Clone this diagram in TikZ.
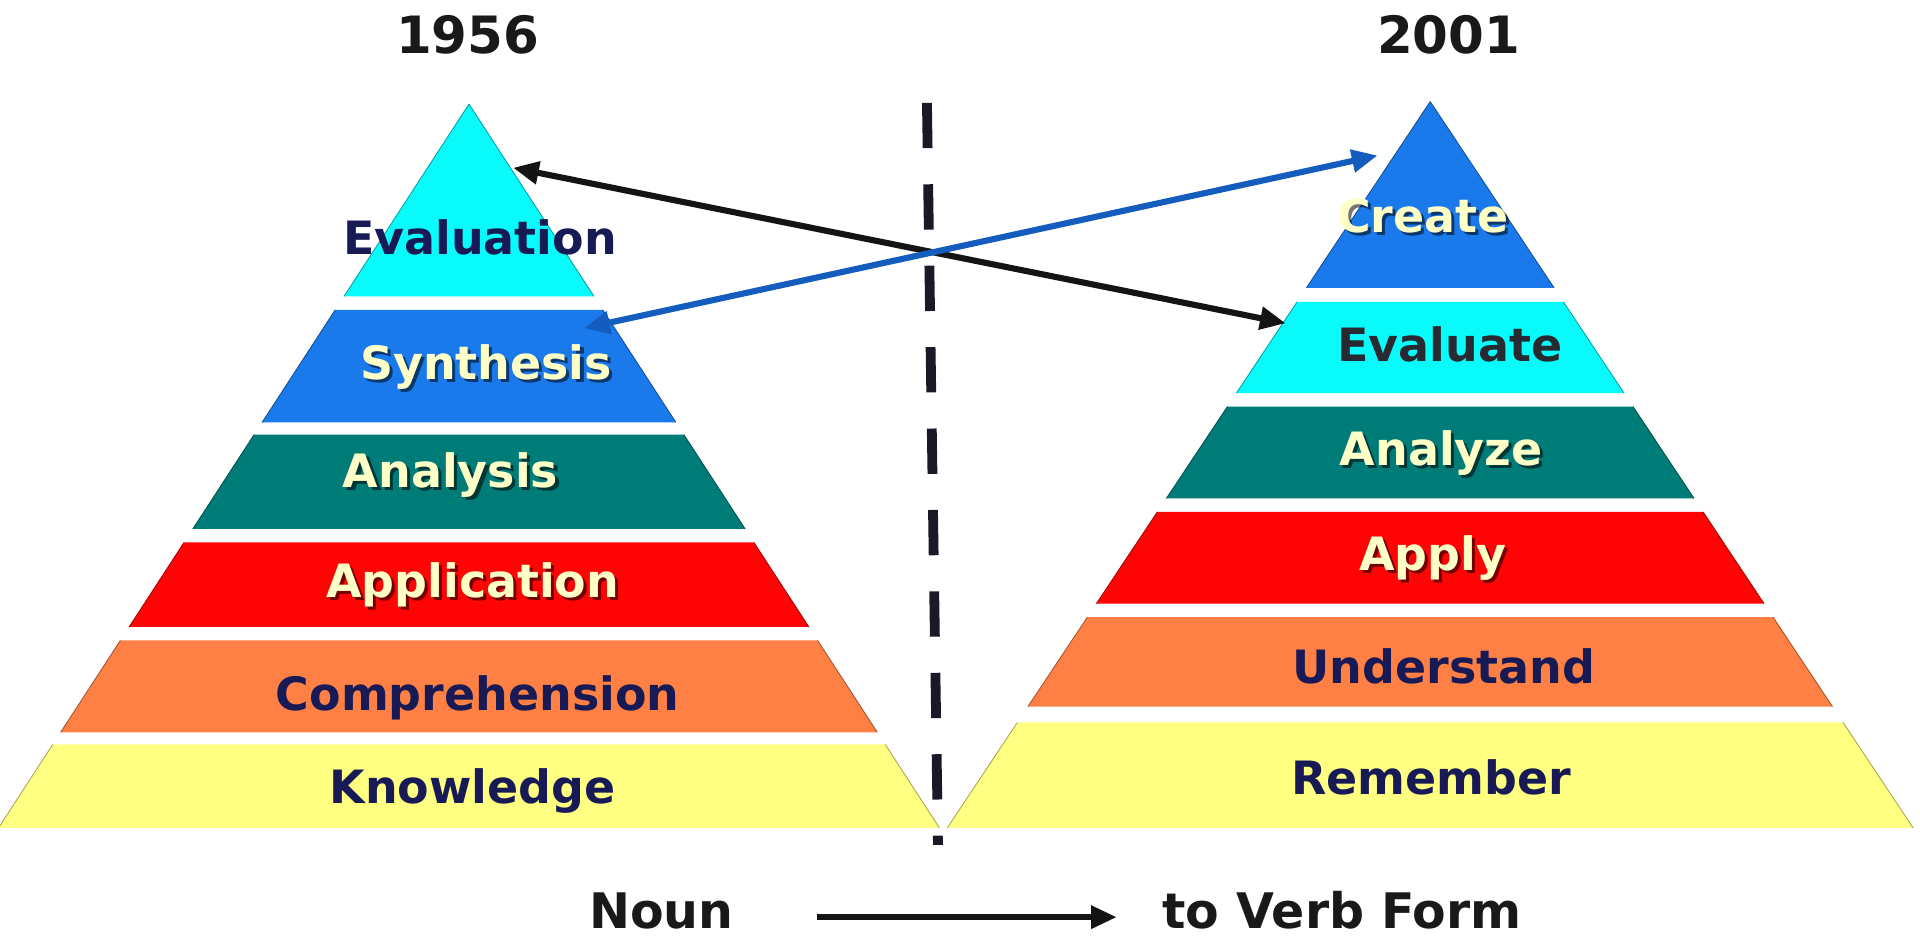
\documentclass[tikz,border=0pt]{standalone}
\usepackage{fontspec}
\setmainfont{DejaVu Sans}
\usetikzlibrary{arrows.meta}
\definecolor{cyanband}{RGB}{8,250,250}
\definecolor{blueband}{RGB}{26,122,236}
\definecolor{tealband}{RGB}{0,124,120}
\definecolor{redband}{RGB}{255,4,4}
\definecolor{orangeband}{RGB}{255,128,68}
\definecolor{yellowband}{RGB}{255,255,130}
\definecolor{navytext}{RGB}{24,26,86}
\definecolor{graytext}{RGB}{40,42,50}
\definecolor{lighttext}{RGB}{255,255,200}
\definecolor{arrowblue}{RGB}{20,92,190}
\definecolor{dashcol}{RGB}{25,25,40}
\newcommand\trapband[6]{%
  \pgfmathsetmacro\hA{#3*(#4-#2)}%
  \pgfmathsetmacro\hB{#3*(#5-#2)}%
  \fill[#6] ({#1-\hA},#4) -- ({#1+\hA},#4) -- ({#1+\hB},#5) -- ({#1-\hB},#5) -- cycle;
  \draw[#6!65!black, line width=0.7] ({#1-\hA},#4) -- ({#1-\hB},#5);
  \draw[#6!65!black, line width=0.7] ({#1+\hA},#4) -- ({#1+\hB},#5);
}
\begin{document}
\begin{tikzpicture}[x=1pt,y=-1pt,
  lab/.style={font=\fontsize{37.5}{40}\selectfont\bfseries, anchor=base, inner sep=0pt},
  darklab/.style={lab, text=navytext},
  shadowlab/.style={lab, text=black, opacity=0.55},
  lightlab/.style={lab, text=lighttext},
  title/.style={font=\fontsize{42}{46}\selectfont\bfseries, anchor=base, inner sep=0pt, text=black!90},
  bottomlab/.style={font=\fontsize{40}{44}\selectfont\bfseries, anchor=base, inner sep=0pt, text=black!90},
  conn/.style={line width=5, {Triangle[length=21,width=18]}-{Triangle[length=21,width=18]}},
  onearrow/.style={line width=5, -{Triangle[length=21,width=18]}}
]
\useasboundingbox (0,0) rectangle (1568,768);
\fill[white] (0,0) rectangle (1568,768);

% left pyramid (1956)
\trapband{383}{85}{0.65}{85}{242}{cyanband}
\trapband{383}{85}{0.65}{253}{345}{blueband}
\trapband{383}{85}{0.65}{355}{432}{tealband}
\trapband{383}{85}{0.65}{443}{512}{redband}
\trapband{383}{85}{0.65}{523}{598}{orangeband}
\trapband{383}{85}{0.65}{608}{676}{yellowband}

% right pyramid (2001)
\trapband{1168}{83}{0.665}{83}{235}{blueband}
\trapband{1168}{83}{0.665}{246.5}{321}{cyanband}
\trapband{1168}{83}{0.665}{332}{407}{tealband}
\trapband{1168}{83}{0.665}{418}{493}{redband}
\trapband{1168}{83}{0.665}{504}{577}{orangeband}
\trapband{1168}{83}{0.665}{590}{676}{yellowband}

% dashed divider
\coordinate (divtop) at (757,84);
\coordinate (divbot) at (766,690);
\draw[dashcol, line width=8, dash pattern=on 37 off 29.5] (divtop) -- (divbot);

% titles
\node[title] (t1956) at (382,44) {1956};
\node[title] (t2001) at (1183,44) {2001};

% left labels
\node[darklab] (evaluation) at (392,208) {Evaluation};
\node[shadowlab] at (399.5,312.5) {Synthesis};
\node[lightlab] (synthesis) at (397,310) {Synthesis};
\node[shadowlab] at (370.5,400.5) {Analysis};
\node[lightlab] (analysis) at (368,398) {Analysis};
\node[shadowlab] at (388.5,490.5) {Application};
\node[lightlab] (application) at (386,488) {Application};
\node[darklab] (comprehension) at (390,580) {Comprehension};
\node[darklab] (knowledge) at (386,656) {Knowledge};

% right labels
\node[shadowlab] at (1164.5,192.5) {Create};
\node[lightlab] (create) at (1162,190) {Create};
\node[lab, text=graytext] (evaluate) at (1184,295) {Evaluate};
\node[shadowlab] at (1179.5,382.5) {Analyze};
\node[lightlab] (analyze) at (1177,380) {Analyze};
\node[shadowlab] at (1172.5,468) {Apply};
\node[lightlab] (apply) at (1170,465.5) {Apply};
\node[darklab] (understand) at (1179,558) {Understand};
\node[darklab] (remember) at (1169,649) {Remember};

% cross arrows
\coordinate (evalApex) at (419,137);
\coordinate (evaluateEdge) at (1050,264);
\coordinate (synthEdge) at (477,268);
\coordinate (createEdge) at (1125,127);
\draw[conn, black!92] (evalApex) -- (evaluateEdge);
\draw[conn, arrowblue] (synthEdge) -- (createEdge);

% bottom caption
\node[bottomlab] (noun) at (540,758) {Noun};
\node[bottomlab] (verb) at (1096,758) {to Verb Form};
\coordinate (capStart) at (667,749);
\coordinate (capEnd) at (912,749);
\draw[onearrow, black!92] (capStart) -- (capEnd);
\end{tikzpicture}
\end{document}
